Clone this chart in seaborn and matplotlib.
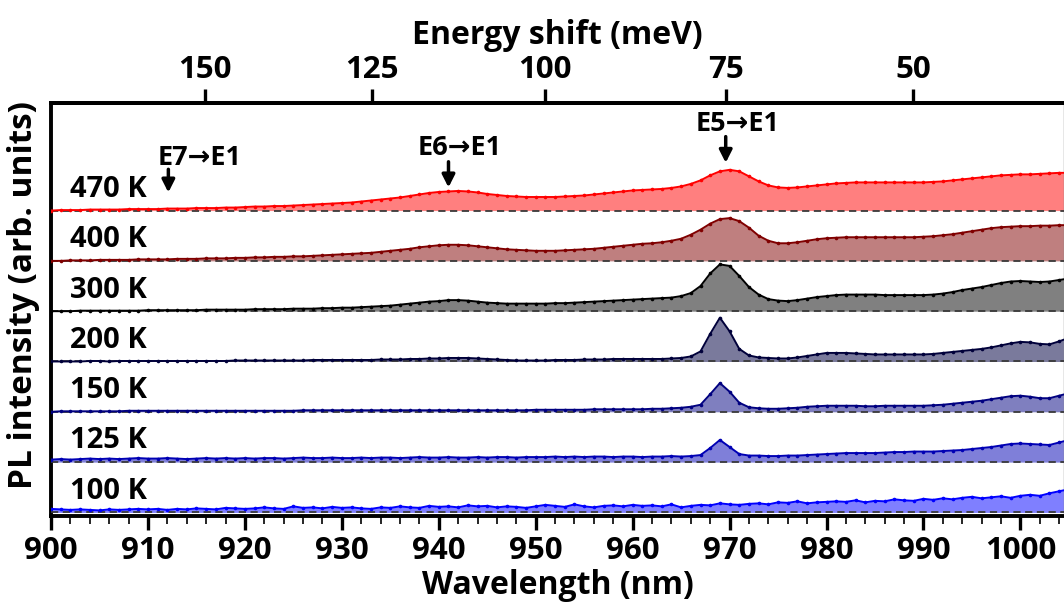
import numpy as np
import matplotlib
matplotlib.use("Agg")
import matplotlib.pyplot as plt
import seaborn as sns

# ---------------- data ----------------
wavelength = list(range(900, 1006))  # nm, 1 nm steps

temps = ["470 K", "400 K", "300 K", "200 K", "150 K", "125 K", "100 K"]
offsets = [6, 5, 4, 3, 2, 1, 0]

pl_470 = [0.00, 0.01, 0.01, 0.01, 0.02, 0.02, 0.02, 0.02, 0.03, 0.03, 0.03,
          0.03, 0.04, 0.04, 0.04, 0.05, 0.05, 0.05, 0.06, 0.06, 0.07,
          0.08, 0.08, 0.09, 0.09, 0.10, 0.11, 0.12, 0.13, 0.14, 0.15,
          0.16, 0.18, 0.20, 0.22, 0.24, 0.26, 0.29, 0.32, 0.35, 0.37,
          0.38, 0.39, 0.38, 0.36, 0.33, 0.31, 0.29, 0.28, 0.27, 0.27,
          0.27, 0.27, 0.28, 0.29, 0.30, 0.32, 0.34, 0.36, 0.38, 0.40,
          0.41, 0.42, 0.43, 0.45, 0.48, 0.53, 0.60, 0.70, 0.78, 0.81,
          0.78, 0.68, 0.58, 0.50, 0.46, 0.45, 0.46, 0.48, 0.50, 0.52,
          0.54, 0.55, 0.56, 0.56, 0.56, 0.56, 0.56, 0.56, 0.56, 0.56,
          0.57, 0.58, 0.60, 0.62, 0.64, 0.66, 0.68, 0.70, 0.71, 0.72,
          0.72, 0.73, 0.74, 0.75, 0.75]

pl_400 = [0.00, 0.00, 0.01, 0.01, 0.01, 0.02, 0.02, 0.02, 0.02, 0.03, 0.03,
          0.03, 0.03, 0.04, 0.04, 0.04, 0.05, 0.05, 0.05, 0.06, 0.06,
          0.07, 0.07, 0.08, 0.08, 0.09, 0.09, 0.10, 0.11, 0.12, 0.13,
          0.14, 0.15, 0.16, 0.18, 0.20, 0.22, 0.24, 0.27, 0.29, 0.31,
          0.32, 0.32, 0.31, 0.29, 0.27, 0.25, 0.23, 0.22, 0.21, 0.20,
          0.20, 0.20, 0.21, 0.22, 0.23, 0.24, 0.26, 0.28, 0.30, 0.32,
          0.34, 0.35, 0.37, 0.40, 0.44, 0.52, 0.62, 0.74, 0.83, 0.85,
          0.79, 0.66, 0.50, 0.40, 0.35, 0.35, 0.37, 0.40, 0.43, 0.45,
          0.46, 0.47, 0.47, 0.47, 0.47, 0.47, 0.47, 0.47, 0.47, 0.48,
          0.49, 0.51, 0.53, 0.56, 0.59, 0.62, 0.65, 0.67, 0.68, 0.69,
          0.69, 0.70, 0.70, 0.71, 0.71]

pl_300 = [0.00, 0.00, 0.00, 0.01, 0.01, 0.01, 0.01, 0.01, 0.01, 0.01, 0.02,
          0.02, 0.02, 0.02, 0.02, 0.02, 0.03, 0.03, 0.03, 0.03, 0.03,
          0.04, 0.04, 0.04, 0.04, 0.05, 0.05, 0.05, 0.06, 0.06, 0.07,
          0.07, 0.08, 0.09, 0.10, 0.11, 0.13, 0.15, 0.17, 0.19, 0.20,
          0.22, 0.22, 0.21, 0.19, 0.17, 0.16, 0.15, 0.15, 0.15, 0.15,
          0.15, 0.16, 0.16, 0.17, 0.18, 0.19, 0.20, 0.21, 0.22, 0.23,
          0.24, 0.25, 0.26, 0.27, 0.30, 0.36, 0.50, 0.75, 0.93, 0.90,
          0.70, 0.48, 0.33, 0.24, 0.21, 0.20, 0.22, 0.25, 0.28, 0.30,
          0.32, 0.33, 0.33, 0.33, 0.33, 0.32, 0.32, 0.32, 0.32, 0.32,
          0.33, 0.35, 0.38, 0.42, 0.45, 0.48, 0.52, 0.56, 0.59, 0.60,
          0.59, 0.58, 0.59, 0.62, 0.65]

pl_200 = [0.00, 0.00, 0.00, 0.00, 0.01, 0.01, 0.00, 0.01, 0.01, 0.01, 0.01,
          0.01, 0.01, 0.01, 0.01, 0.01, 0.01, 0.01, 0.01, 0.02, 0.02,
          0.02, 0.02, 0.02, 0.02, 0.02, 0.02, 0.03, 0.03, 0.03, 0.03,
          0.03, 0.03, 0.03, 0.04, 0.04, 0.04, 0.05, 0.05, 0.06, 0.06,
          0.07, 0.07, 0.07, 0.06, 0.05, 0.04, 0.03, 0.02, 0.02, 0.02,
          0.02, 0.03, 0.03, 0.03, 0.04, 0.04, 0.04, 0.05, 0.05, 0.05,
          0.05, 0.05, 0.05, 0.06, 0.07, 0.10, 0.20, 0.55, 0.87, 0.60,
          0.25, 0.12, 0.08, 0.07, 0.06, 0.06, 0.08, 0.11, 0.14, 0.17,
          0.17, 0.17, 0.16, 0.15, 0.14, 0.14, 0.14, 0.14, 0.14, 0.14,
          0.15, 0.17, 0.19, 0.21, 0.23, 0.25, 0.28, 0.32, 0.36, 0.39,
          0.38, 0.35, 0.34, 0.40, 0.47]

pl_150 = [0.00, 0.01, 0.01, 0.01, 0.01, 0.01, 0.01, 0.01, 0.02, 0.02, 0.02,
          0.02, 0.02, 0.02, 0.02, 0.02, 0.02, 0.02, 0.02, 0.02, 0.02,
          0.02, 0.02, 0.02, 0.02, 0.02, 0.03, 0.03, 0.03, 0.03, 0.03,
          0.03, 0.03, 0.03, 0.03, 0.03, 0.03, 0.03, 0.03, 0.03, 0.03,
          0.03, 0.03, 0.03, 0.03, 0.03, 0.03, 0.03, 0.03, 0.03, 0.04,
          0.04, 0.04, 0.04, 0.04, 0.04, 0.05, 0.05, 0.05, 0.05, 0.05,
          0.05, 0.06, 0.06, 0.07, 0.08, 0.10, 0.14, 0.35, 0.57, 0.40,
          0.18, 0.09, 0.07, 0.06, 0.06, 0.07, 0.08, 0.10, 0.11, 0.12,
          0.12, 0.12, 0.12, 0.11, 0.11, 0.12, 0.12, 0.12, 0.12, 0.12,
          0.13, 0.14, 0.16, 0.18, 0.20, 0.22, 0.25, 0.28, 0.31, 0.32,
          0.30, 0.27, 0.27, 0.32, 0.37]

pl_125 = [0.05, 0.06, 0.05, 0.06, 0.07, 0.06, 0.07, 0.06, 0.07, 0.08, 0.07,
          0.07, 0.08, 0.07, 0.06, 0.07, 0.08, 0.07, 0.08, 0.07, 0.08,
          0.07, 0.08, 0.08, 0.07, 0.08, 0.09, 0.08, 0.08, 0.09, 0.08,
          0.08, 0.09, 0.08, 0.09, 0.09, 0.08, 0.09, 0.10, 0.09, 0.09,
          0.10, 0.09, 0.09, 0.10, 0.09, 0.10, 0.10, 0.09, 0.10, 0.10,
          0.10, 0.11, 0.10, 0.11, 0.10, 0.11, 0.11, 0.10, 0.11, 0.11,
          0.10, 0.11, 0.11, 0.12, 0.11, 0.12, 0.14, 0.28, 0.44, 0.30,
          0.16, 0.13, 0.13, 0.12, 0.12, 0.13, 0.13, 0.14, 0.15, 0.16,
          0.17, 0.18, 0.18, 0.18, 0.18, 0.19, 0.20, 0.20, 0.21, 0.21,
          0.21, 0.22, 0.23, 0.24, 0.26, 0.28, 0.30, 0.33, 0.36, 0.37,
          0.36, 0.35, 0.34, 0.39, 0.44]

pl_100 = [0.07, 0.06, 0.05, 0.06, 0.05, 0.04, 0.06, 0.05, 0.06, 0.07, 0.06,
          0.07, 0.05, 0.07, 0.06, 0.08, 0.07, 0.06, 0.09, 0.08, 0.07,
          0.08, 0.10, 0.08, 0.07, 0.12, 0.09, 0.10, 0.08, 0.11, 0.09,
          0.10, 0.08, 0.07, 0.10, 0.09, 0.12, 0.10, 0.09, 0.13, 0.11,
          0.12, 0.10, 0.14, 0.12, 0.13, 0.10, 0.12, 0.11, 0.09, 0.12,
          0.15, 0.13, 0.11, 0.16, 0.12, 0.10, 0.13, 0.14, 0.12, 0.15,
          0.13, 0.14, 0.12, 0.16, 0.10, 0.13, 0.15, 0.14, 0.18, 0.16,
          0.15, 0.17, 0.18, 0.16, 0.20, 0.19, 0.22, 0.18, 0.20, 0.21,
          0.22, 0.21, 0.24, 0.20, 0.23, 0.22, 0.26, 0.24, 0.23, 0.27,
          0.25, 0.28, 0.26, 0.29, 0.31, 0.28, 0.30, 0.32, 0.29, 0.33,
          0.35, 0.33, 0.38, 0.42, 0.46]

series = [pl_470, pl_400, pl_300, pl_200, pl_150, pl_125, pl_100]
line_colors = ["#ff0000", "#800000", "#000000", "#00003a", "#000080", "#0000b4", "#0000ff"]
fill_colors = ["#ff7f7f", "#bf7f7f", "#808080", "#7a7a9c", "#7f7fbf", "#7f7fd9", "#7f7fff"]

annot_labels = ["E7\u2192E1", "E6\u2192E1", "E5\u2192E1"]
annot_wl = [912.1, 941.0, 969.6]

top_ticks = [150, 125, 100, 75, 50]
laser_wl = 1030.0  # nm, reference for energy shift

# ---------------- style ----------------
sns.set_style("ticks")
plt.rcParams["font.family"] = ["Open Sans", "DejaVu Sans"]
plt.rcParams["font.weight"] = "bold"
plt.rcParams["axes.labelweight"] = "bold"
plt.rcParams["text.color"] = "black"
plt.rcParams["axes.labelcolor"] = "black"
plt.rcParams["xtick.color"] = "black"
plt.rcParams["ytick.color"] = "black"
plt.rcParams["axes.edgecolor"] = "black"

fig = plt.figure(figsize=(10.64, 6.09), dpi=100)
ax = fig.add_axes([0.048, 0.152, 0.952, 0.679])

wl = np.array(wavelength, dtype=float)
for i, (vals, off) in enumerate(zip(series, offsets)):
    y = np.array(vals) + off
    ax.fill_between(wl, off, y, color=fill_colors[i], lw=0, zorder=2)
    ax.axhline(off, color="#3a3a3a", ls=(0, (4, 2.5)), lw=1.3, zorder=3)
    sns.lineplot(x=wl, y=y, ax=ax, color=line_colors[i], lw=1.4,
                 marker="o", markersize=2.6, markeredgewidth=0, zorder=4,
                 estimator=None, sort=False)
    ax.text(902.0, off + 0.42, temps[i], fontsize=21, fontweight="bold",
            ha="left", va="center", color="black", zorder=5)

# annotations
text_pos = [(911.0, 7.05), (937.8, 7.25), (966.5, 7.73)]
arrow_y = [(6.82, 6.36), (6.97, 6.46), (7.47, 6.95)]
for lab, xw, (tx, ty), (y0, y1) in zip(annot_labels, annot_wl, text_pos, arrow_y):
    ax.text(tx, ty, lab, fontsize=19.5, fontweight="bold", ha="left", va="center",
            family=["Open Sans", "DejaVu Sans"], color="black", zorder=6)
    ax.annotate("", xy=(xw, y1), xytext=(xw, y0),
                arrowprops=dict(arrowstyle="-|>,head_length=0.75,head_width=0.38",
                                color="black", lw=2.5, shrinkA=0, shrinkB=0),
                zorder=6)

ax.set_xlim(900, 1004.5)
ax.set_ylim(-0.08, 8.14)
ax.set_yticks([])
ax.set_xticks(np.arange(900, 1001, 10))
ax.set_xticks(np.arange(900, 1005, 2), minor=True)
ax.tick_params(axis="x", which="major", direction="out", length=10, width=2.4,
               labelsize=22.5, pad=4)
ax.tick_params(axis="x", which="minor", direction="out", length=6, width=1.2)
for lbl in ax.get_xticklabels():
    lbl.set_fontweight("bold")

for side in ["left", "bottom", "top"]:
    ax.spines[side].set_linewidth(2.8)
    ax.spines[side].set_color("black")
ax.spines["right"].set_linewidth(1.0)
ax.spines["right"].set_color("#888888")

ax.set_xlabel("Wavelength (nm)", fontsize=23, fontweight="bold", labelpad=2)
ax.set_ylabel("PL intensity (arb. units)", fontsize=24, fontweight="bold")
ax.yaxis.set_label_coords(-0.011, 0.535)

E0 = 1239.84 / laser_wl


def wl_to_shift(w):
    w = np.asarray(w, dtype=float)
    with np.errstate(divide="ignore", invalid="ignore"):
        return (1239.84 / w - E0) * 1000.0


def shift_to_wl(s):
    s = np.asarray(s, dtype=float)
    with np.errstate(divide="ignore", invalid="ignore"):
        return 1239.84 / (s / 1000.0 + E0)


sec = ax.secondary_xaxis("top", functions=(wl_to_shift, shift_to_wl))
sec.set_xticks(top_ticks)
sec.minorticks_off()
sec.tick_params(axis="x", direction="out", length=10, width=2.4, labelsize=22.5, pad=3)
for lbl in sec.get_xticklabels():
    lbl.set_fontweight("bold")
sec.spines["top"].set_linewidth(2.8)
sec.set_xlabel("Energy shift (meV)", fontsize=23, fontweight="bold", labelpad=8)

fig.savefig("out.png", dpi=100)
